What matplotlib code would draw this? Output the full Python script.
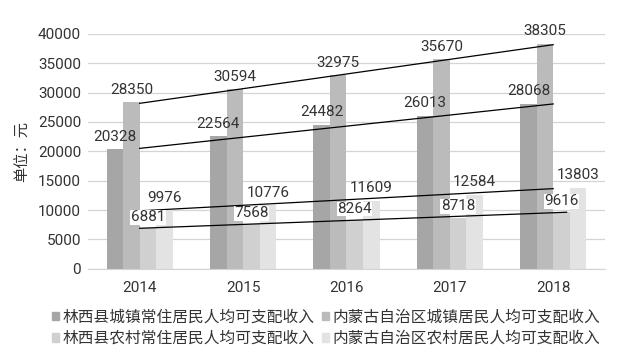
import numpy as np
import matplotlib
matplotlib.use("Agg")
import matplotlib.pyplot as plt
from matplotlib.patches import Patch

plt.rcParams['font.family'] = ['Roboto', 'Noto Sans CJK SC', 'DejaVu Sans']

years = ['2014', '2015', '2016', '2017', '2018']
linxi_urban = [20328, 22564, 24482, 26013, 28068]
nmg_urban = [28350, 30594, 32975, 35670, 38305]
linxi_rural = [6881, 7568, 8264, 8718, 9616]
nmg_rural = [9976, 10776, 11609, 12584, 13803]

names = ['林西县城镇常住居民人均可支配收入', '内蒙古自治区城镇居民人均可支配收入',
         '林西县农村常住居民人均可支配收入', '内蒙古自治区农村居民人均可支配收入']
colors = ['#a6a6a6', '#bbbbbb', '#d0d0d0', '#e3e3e3']
series = [linxi_urban, nmg_urban, linxi_rural, nmg_rural]

fig = plt.figure(figsize=(6.25, 3.54), dpi=100)
ax = fig.add_axes([0.1408, 0.241, 0.827, 0.663])

x = np.arange(len(years))
w = 0.16
fs = 11
txt = '#333333'

for i, (vals, c) in enumerate(zip(series, colors)):
    bars = ax.bar(x + (i - 1.5) * w, vals, w, color=c, zorder=2)
    if i == 2:
        ax.bar_label(bars, padding=3, fontsize=fs, color=txt, zorder=4,
                     bbox=dict(facecolor='white', edgecolor='none', pad=0.3))
    else:
        ax.bar_label(bars, padding=4, fontsize=fs, color=txt, zorder=4)

# linear trendlines
for i, vals in enumerate(series):
    k, b = np.polyfit(x, vals, 1)
    end = 4.13 if i == 2 else 4
    xx = np.array([0, end])
    ax.plot(xx, k * xx + b, color='black', lw=0.9, zorder=3)

ax.set_xlim(-0.5, 4.5)
ax.set_ylim(0, 40000)
ax.set_yticks(range(0, 40001, 5000))
ax.set_xticks(x)
ax.set_xticklabels(years)
ax.tick_params(length=0, labelsize=fs, colors=txt)
ax.tick_params(axis='x', pad=9)
ax.tick_params(axis='y', pad=5)
ax.grid(axis='y', color='#d4d4d4', lw=0.9, zorder=0)
for s in ['top', 'right', 'left']:
    ax.spines[s].set_visible(False)
ax.spines['bottom'].set_color('#d4d4d4')
ax.set_ylabel('单位：元', fontsize=fs, color=txt, labelpad=6)

handles = [Patch(color=c) for c in colors]
order = [0, 2, 1, 3]
fig.legend([handles[j] for j in order], [names[j] for j in order],
           ncol=2, loc='center', bbox_to_anchor=(0.522, 0.074), frameon=False,
           fontsize=11.3, labelcolor='#333333', handlelength=0.45, handleheight=0.45,
           handletextpad=0.2, columnspacing=0.5, labelspacing=0.4, borderpad=0)

plt.savefig('out.png', dpi=100)
